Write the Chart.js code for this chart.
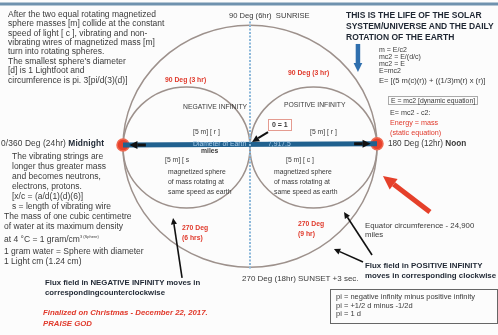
<!DOCTYPE html>
<html>
<head>
<meta charset="utf-8">
<script src="https://cdn.jsdelivr.net/npm/chart.js@4.4.1/dist/chart.umd.min.js"></script>
<style>
  body { margin: 0; background: #fff; }
  #wrap { position: relative; width: 498px; height: 335px; background: #fcfcfc; overflow: hidden;
          font-family: "Liberation Sans", Arial, sans-serif; color: #3a3a3a; }
  #c { position: absolute; left: 0; top: 0; }
  .t { position: absolute; font-size: 8.5px; line-height: 9.4px; white-space: nowrap; }
  .b { font-weight: bold; }
  .red { color: #e0392b; font-weight: bold; }
  .sm { font-size: 6.8px; line-height: 7px; }
  .dark { color: #1f2733; font-weight: bold; }
</style>
</head>
<body>
<div id="wrap">
  <canvas id="c" width="498" height="335"></canvas>

  <div class="t" style="left:8px;top:10px;line-height:9.3px">After the two equal rotating magnetized<br>sphere masses [m] collide at the constant<br>speed of light [ c ], vibrating and non-<br>vibrating wires of magnetized mass [m]<br>turn into rotating spheres.</div>
  <div class="t" style="left:8px;top:57px;line-height:9.3px">The smallest sphere's diameter<br>[d] is 1 Lightfoot and<br>circumference is pi. 3[pi/d(3)(d)]</div>

  <div class="t" style="left:229px;top:11px;font-size:7.6px">90 Deg (6hr)&nbsp; SUNRISE</div>

  <div class="t dark" style="left:346px;top:10px;line-height:11px;font-size:8.5px">THIS IS THE LIFE OF THE SOLAR<br>SYSTEM/UNIVERSE AND THE DAILY<br>ROTATION OF THE EARTH</div>
  <div class="t sm" style="left:379px;top:46px;font-size:7px">m = E/c2<br>mc2 = E/(d/c)<br>mc2 = E<br>E=mc2</div>
  <div class="t sm" style="left:379px;top:77px;font-size:7.6px">E= [(5 m(c)(r)) + ((1/3)m(r) x (r)]</div>
  <div class="t sm" style="left:388px;top:96px;border:1px solid #aaa;padding:0 2px">E = mc2 [dynamic equation]</div>
  <div class="t sm" style="left:390px;top:108px;line-height:10px;font-size:7.2px">E= mc2 - c2:<br><span style="color:#e0392b">Energy = mass</span><br><span style="color:#e0392b">(static equation)</span></div>
  <div class="t" style="left:388px;top:139px;font-size:8.2px">180 Deg (12hr) <b>Noon</b></div>

  <div class="t" style="left:1px;top:139px;font-size:8.4px;letter-spacing:0.1px">0/360 Deg (24hr) <b style="color:#1f2733">Midnight</b></div>
  <div class="t" style="left:12px;top:152px;line-height:9.9px">The vibrating strings are<br>longer thus greater mass<br>and becomes neutrons,<br>electrons, protons.<br>[x/c = (a/d(1)(d)(6)]<br>s = length of vibrating wire</div>
  <div class="t" style="left:4px;top:212px;line-height:9.9px">The mass of one cubic centimetre<br>of water at its maximum density<br>at 4 °C = 1 gram/cm<sup style="font-size:4px">3 (Sphere)</sup></div>
  <div class="t" style="left:4px;top:247px;line-height:9.9px">1 gram water = Sphere with diameter<br>1 Light cm (1.24 cm)</div>
  <div class="t dark" style="left:45px;top:278px;line-height:10px;font-size:7.8px">Flux field in NEGATIVE INFINITY moves in<br>correspondingcounterclockwise</div>
  <div class="t red" style="left:43px;top:308px;line-height:10.5px;font-style:italic;font-size:7.8px">Finalized on Christmas - December 22, 2017.<br>PRAISE GOD</div>

  <div class="t red sm" style="left:165px;top:76px">90 Deg (3 hr)</div>
  <div class="t red sm" style="left:288px;top:69px">90 Deg (3 hr)</div>
  <div class="t sm" style="left:183px;top:103px">NEGATIVE INFINITY</div>
  <div class="t sm" style="left:284px;top:101px">POSITIVE INFINITY</div>
  <div class="t sm" style="left:193px;top:128px">[5 m] [ r ]</div>
  <div class="t sm" style="left:310px;top:128px">[5 m] [ r ]</div>
  <div class="t b" style="left:268px;top:119px;font-size:7px;line-height:10px;border:1px solid #e49b90;padding:0 3px;background:#fff">0 = 1</div>
  <div class="t sm" style="left:193px;top:140px;color:#a9cdea">Diameter of Earth</div>
  <div class="t sm" style="left:268px;top:140px;color:#a9cdea">7,917.5</div>
  <div class="t sm b" style="left:201px;top:147px">miles</div>

  <div class="t sm" style="left:165px;top:156px">[5 m] [ s</div>
  <div class="t sm" style="left:168px;top:167px;line-height:10px">magnetized sphere<br>of mass rotating at<br>same speed as earth</div>
  <div class="t sm" style="left:286px;top:156px">[5 m] [ c ]</div>
  <div class="t sm" style="left:274px;top:167px;line-height:10px">magnetized sphere<br>of mass rotating at<br>same speed as earth</div>

  <div class="t red sm" style="left:182px;top:223px;line-height:10px">270 Deg<br>(6 hrs)</div>
  <div class="t red sm" style="left:298px;top:219px;line-height:10px">270 Deg<br>(9 hr)</div>
  <div class="t" style="left:242px;top:274px;font-size:8px">270 Deg (18hr) SUNSET +3 sec.</div>

  <div class="t" style="left:365px;top:221px;line-height:9px;font-size:7.8px">Equator circumference - 24,900<br>miles</div>
  <div class="t dark" style="left:365px;top:261px;line-height:10px;font-size:7.9px">Flux field in POSITIVE INFINITY<br>moves in corresponding clockwise</div>

  <div class="t sm" style="left:330px;top:289px;width:161px;height:30px;border:1.5px solid #666;padding:3px 0 0 5px;line-height:8.6px;font-size:7.5px;overflow:hidden">pi = negative infinity minus positive infinity<br>pi = +1/2 d minus -1/2d<br>pi = 1 d</div>
</div>

<script>
// units: origin at centre of the big circle, 1 = its radius
const circleX = [0, -0.5, 0.5];
const circleY = [-0.01, -0.02, -0.02];
const circleR = [1, 0.5, 0.5];

const dotX = [-1, 1];
const dotY = [0, 0.01];

const diameterX = [-1, 1];
const diameterY = [0.0, 0.01];

const meridianX = [0, 0];
const meridianY = [1.02, -1.03];

const topRuleX = [-1.97, 1.96];
const topRuleY = [1.165, 1.165];

// arrows: centre, blue, red, neg flux, pos flux x2, diameter ends
const arrowTailX = [0.142, 0.85, 1.417, -0.535, 0.961, 0.890, -0.82, 0.82];
const arrowTailY = [0.107, 0.835, -0.554, -1.099, -0.909, -0.967, 0.0, 0.01];
const arrowHeadX = [0.016, 0.85, 1.047, -0.606, 0.740, 0.661, -0.95, 0.95];
const arrowHeadY = [0.025, 0.603, -0.256, -0.603, -0.554, -0.860, 0.0, 0.01];

const ARROW_STYLE = [
  { color: "#111", width: 2,   head: 8 },
  { color: "#2f6fae", width: 4.5, head: 10 },
  { color: "#e5402a", width: 5, head: 15 },
  { color: "#111", width: 1.6, head: 7 },
  { color: "#111", width: 1.6, head: 7 },
  { color: "#111", width: 1.6, head: 7 },
  { color: "#111", width: 3,   head: 9 },
  { color: "#111", width: 3,   head: 9 },
];

const pts = (xs, ys) => xs.map((x, i) => ({ x, y: ys[i] }));

const shapes = {
  id: "shapes",
  beforeDatasetsDraw(chart) {
    const { ctx, scales: { x, y } } = chart;
    ctx.save();
    ctx.strokeStyle = "#9d918c";
    ctx.lineWidth = 1.5;
    circleX.forEach((cx, i) => {
      const px = x.getPixelForValue(cx), py = y.getPixelForValue(circleY[i]);
      const rx = Math.abs(x.getPixelForValue(cx + circleR[i]) - px);
      const ry = Math.abs(y.getPixelForValue(circleY[i] + circleR[i]) - py);
      ctx.beginPath();
      ctx.ellipse(px, py, rx, ry, 0, 0, Math.PI * 2);
      ctx.stroke();
    });
    ctx.restore();
  },
  afterDatasetsDraw(chart) {
    const { ctx, scales: { x, y } } = chart;
    ctx.save();
    arrowTailX.forEach((tx, i) => {
      const s = ARROW_STYLE[i];
      const x0 = x.getPixelForValue(tx), y0 = y.getPixelForValue(arrowTailY[i]);
      const x1 = x.getPixelForValue(arrowHeadX[i]), y1 = y.getPixelForValue(arrowHeadY[i]);
      const a = Math.atan2(y1 - y0, x1 - x0);
      const bx = x1 - Math.cos(a) * s.head * 0.9, by = y1 - Math.sin(a) * s.head * 0.9;
      ctx.strokeStyle = s.color;
      ctx.fillStyle = s.color;
      ctx.lineWidth = s.width;
      ctx.beginPath();
      ctx.moveTo(x0, y0);
      ctx.lineTo(bx, by);
      ctx.stroke();
      ctx.beginPath();
      ctx.moveTo(x1, y1);
      ctx.lineTo(x1 - Math.cos(a - 0.45) * s.head, y1 - Math.sin(a - 0.45) * s.head);
      ctx.lineTo(x1 - Math.cos(a + 0.45) * s.head, y1 - Math.sin(a + 0.45) * s.head);
      ctx.closePath();
      ctx.fill();
    });
    ctx.restore();
  }
};

new Chart(document.getElementById("c"), {
  type: "scatter",
  data: {
    datasets: [
      { data: pts(topRuleX, topRuleY), showLine: true, borderColor: "#6f92ae", borderWidth: 3, pointRadius: 0 },
      { data: pts(meridianX, meridianY), showLine: true, borderColor: "#8cb8da", borderWidth: 2, borderDash: [2, 1.5], pointRadius: 0 },
      { data: pts(diameterX, diameterY), showLine: true, borderColor: "#20618f", borderWidth: 5, pointRadius: 0 },
      { data: pts(dotX, dotY), pointRadius: 6, pointBackgroundColor: "#e8412c", pointBorderColor: "#f06a52", pointBorderWidth: 1.5 },
    ]
  },
  plugins: [shapes],
  options: {
    responsive: false,
    animation: false,
    devicePixelRatio: 1,
    layout: { padding: 0, autoPadding: false },
    clip: false,
    plugins: { legend: { display: false }, tooltip: { enabled: false } },
    scales: {
      x: { type: "linear", display: false, min: -1.9685, max: 1.9528 },
      y: { type: "linear", display: false, min: -1.5702, max: 1.1983 }
    }
  }
});
</script>
</body>
</html>
